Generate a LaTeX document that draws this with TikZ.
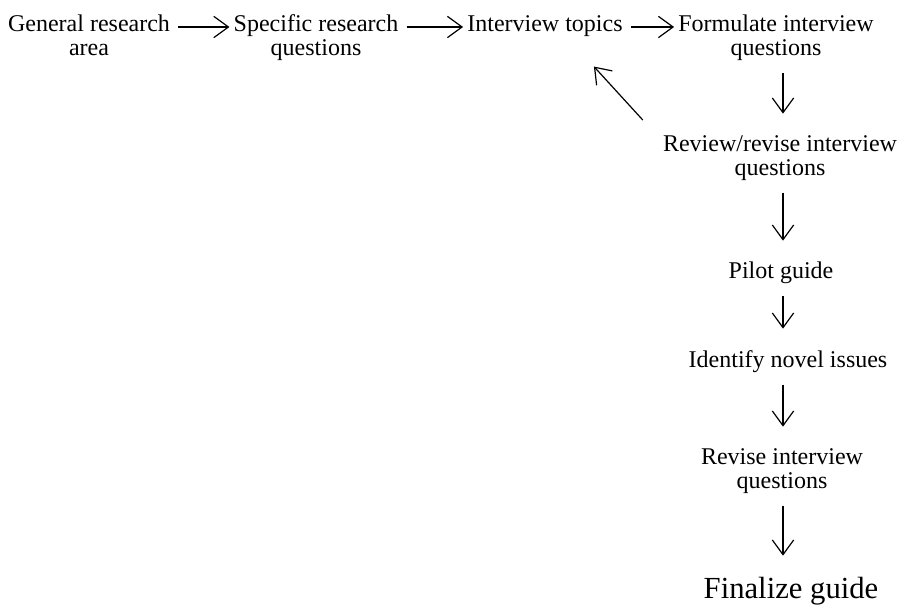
\documentclass[tikz,border=0pt]{standalone}
\usepackage{fontspec}
\setmainfont{Liberation Serif}
\usetikzlibrary{positioning, calc, arrows.meta}

\begin{document}
\begin{tikzpicture}[x=0.75pt, y=-0.75pt, step1/.style={anchor=north, align=center, inner sep=3pt, font=\fontsize{18}{18}\selectfont}, step2/.style={step1, font=\fontsize{23}{23}\selectfont}, arr/.style={-{Straight Barb[length=11pt,width=16pt]}, line width=0.9pt}, down/.style={arr, shorten <=6pt, shorten >=13pt} ]
\useasboundingbox (0,0) rectangle (901,606);
\coordinate (row) at (0,27);
\coordinate (col) at (783,0);
\node (gra) [step1] at (89,11) {General research\\area};
\node (srq) [step1] at (316,10) {Specific research\\questions};
\node (it) [step1] at (545,11) {Interview topics};
\node (fiq) [step1] at (776,11) {Formulate interview\\questions};
\node (rri) [step1] at (780,131) {Review/revise interview\\questions};
\node (pg) [step1] at (781,258) {Pilot guide};
\node (ini) [step1] at (788,346) {Identify novel issues};
\node (riq) [step1] at (782,444) {Revise interview\\questions};
\node (fg) [step2] at (791,573) {Finalize guide};
  \begin{scope}
    \draw [arr, shorten <=3pt] (gra.east |- row) -- (srq.west |- row);
    \draw [arr, shorten <=3pt] (srq.east |- row) -- (it.west |- row);
    \draw [arr, shorten <=3pt] (it.east |- row) -- (fiq.west |- row);
  \end{scope}
  \begin{scope}
    \draw [down] (fiq.south -| col) -- (rri.north -| col);
    \draw [down] (rri.south -| col) -- (pg.north -| col);
    \draw [down] (pg.south -| col) -- (ini.north -| col);
    \draw [down] (ini.south -| col) -- (riq.north -| col);
    \draw [down] (riq.south -| col) -- (fg.north -| col);
    % back to the topics
    \draw [arr] ([shift={(-16,-11)}]rri.north west) -- ([shift={(-33,26)}]it.south east);
  \end{scope}
\end{tikzpicture}
\end{document}
